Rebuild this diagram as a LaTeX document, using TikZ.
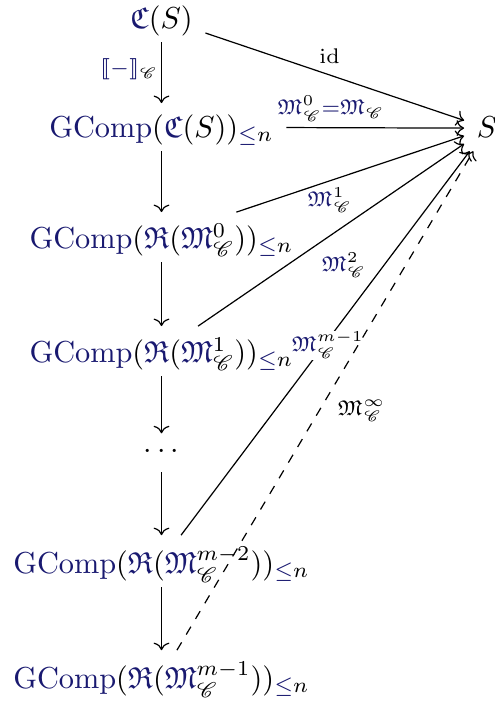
\documentclass[tikz,border=0pt]{standalone}
\usepackage{amssymb}
\usepackage{mathrsfs}
\usepackage{stmaryrd}
\usetikzlibrary{arrows.meta}
\definecolor{nv}{RGB}{25,25,112}
\newcommand\bl[1]{{\color{nv}#1}}
\newcommand\MC[1]{\bl{\mathfrak{M}}^{#1}_{\mathscr{C}}}
\newcommand\GC[1]{\bl{\mathrm{GComp}}(#1)_{\bl{\le}n}}
\begin{document}
\begin{tikzpicture}[x=0.33pt,y=-0.33pt,
  obj/.style={inner xsep=4pt, inner ysep=3.5pt, text depth=1pt, anchor=base},
  arr/.style={-{Computer Modern Rightarrow}, line width=0.4pt},
  lab/.style={inner sep=2pt}]
\useasboundingbox (0,0) rectangle (495,702);
\node[obj] (a) at (161.5,28) {$\bl{\mathfrak{C}}(S)$};
\node[obj] (b) at (161.5,137) {$\GC{\bl{\mathfrak{C}}(S)}$};
\node[obj] (c) at (161.5,248) {$\GC{\bl{\mathfrak{R}}(\MC{0})}$};
\node[obj] (d) at (161.5,362) {$\GC{\bl{\mathfrak{R}}(\MC{1})}$};
\node[obj] (dots) at (161.5,458) {$\cdots$};
\node[obj] (e) at (161.5,573) {$\GC{\bl{\mathfrak{R}}(\MC{m-2})}$};
\node[obj] (f) at (161.5,688) {$\GC{\bl{\mathfrak{R}}(\MC{m-1})}$};
\node[obj] (s) at (487,137) {$S$};
\draw[arr] (a) -- node[lab,left,inner sep=1pt,pos=0.45] {$\scriptstyle\bl{\llbracket{-}\rrbracket}_{\mathscr{C}}$} (b);
\draw[arr] (b) -- (c);
\draw[arr] (c) -- (d);
\draw[arr] (d) -- (dots);
\draw[arr] (dots) -- (e);
\draw[arr] (e) -- (f);
\draw[arr] (a) -- node[lab,above,pos=0.48,yshift=1.5pt] {$\scriptstyle\mathrm{id}$} (s);
\draw[arr] (b) -- node[lab,above,pos=0.25] {$\scriptstyle\MC{0}\bl{=}\bl{\mathfrak{M}}_{\mathscr{C}}$} (s);
\draw[arr] (c) -- node[lab,below,pos=0.41] {$\scriptstyle\MC{1}$} (s);
\draw[arr] (d) -- node[lab,below right,pos=0.44] {$\scriptstyle\MC{2}$} (s);
\draw[arr] (e) -- node[lab,fill=white,inner sep=0.3pt,pos=0.495,xshift=1.3pt] {$\scriptstyle\MC{m-1}$} (s);
\draw[arr,dashed] (f) -- node[lab,anchor=west,pos=0.48,xshift=4pt] {$\scriptstyle\mathfrak{M}^{\infty}_{\mathscr{C}}$} (s);
\end{tikzpicture}
\end{document}
